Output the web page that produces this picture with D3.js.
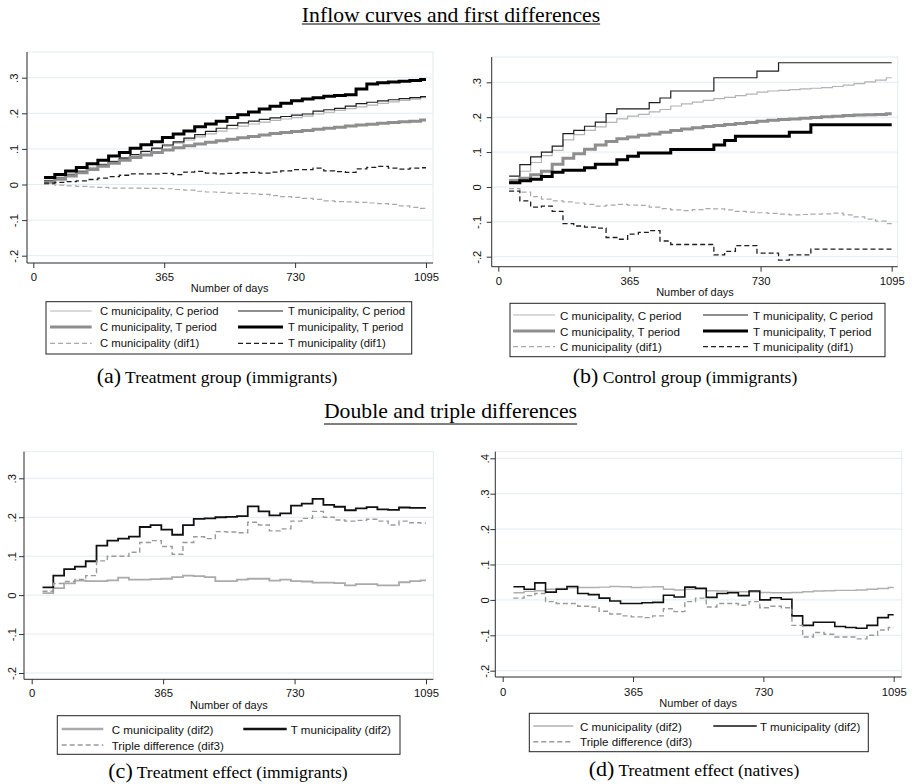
<!DOCTYPE html>
<html><head><meta charset="utf-8">
<script src="https://cdn.jsdelivr.net/npm/d3@7"></script>
<style>body{margin:0;background:#fff}svg{display:block}</style>
</head><body>
<svg id="c" width="912" height="784"></svg>
<script>
// ---------- DATA ----------
const days = [30,60,90,120,150,180,210,240,270,300,330,360,390,420,450,480,510,540,570,600,630,660,690,720,750,780,810,840,870,900,930,960,990,1020,1050,1080,1095];
const xTicks = [0,365,730,1095];
const yTicksABC = [-0.2,-0.1,0,0.1,0.2,0.3];
const yTicksD = [-0.2,-0.1,0,0.1,0.2,0.3,0.4];

// (a) Treatment group (immigrants)
const aCC = [0.012,0.021,0.030,0.039,0.048,0.057,0.066,0.075,0.084,0.092,0.100,0.108,0.116,0.125,0.134,0.142,0.150,0.157,0.164,0.170,0.175,0.180,0.184,0.188,0.192,0.198,0.203,0.208,0.213,0.218,0.223,0.228,0.232,0.236,0.240,0.244,0.244];
const aTC = [0.010,0.018,0.027,0.036,0.045,0.055,0.064,0.074,0.084,0.093,0.102,0.111,0.120,0.130,0.140,0.149,0.158,0.166,0.173,0.178,0.183,0.187,0.191,0.195,0.198,0.206,0.210,0.214,0.220,0.227,0.231,0.235,0.238,0.241,0.244,0.247,0.247];
const aCT = [0.006,0.015,0.024,0.033,0.042,0.051,0.060,0.068,0.076,0.083,0.090,0.097,0.103,0.109,0.114,0.119,0.123,0.127,0.131,0.135,0.139,0.143,0.146,0.149,0.152,0.155,0.158,0.161,0.164,0.167,0.169,0.172,0.174,0.176,0.178,0.181,0.181];
const aTT = [0.020,0.028,0.038,0.048,0.058,0.068,0.080,0.090,0.102,0.112,0.120,0.132,0.142,0.150,0.162,0.170,0.178,0.188,0.196,0.204,0.212,0.220,0.228,0.235,0.240,0.244,0.248,0.250,0.252,0.268,0.282,0.286,0.288,0.290,0.292,0.295,0.295];
const aCd = [0.000,-0.002,-0.004,-0.005,-0.007,-0.008,-0.010,-0.010,-0.010,-0.011,-0.011,-0.012,-0.014,-0.016,-0.019,-0.021,-0.022,-0.024,-0.025,-0.026,-0.028,-0.031,-0.034,-0.036,-0.039,-0.042,-0.046,-0.048,-0.049,-0.050,-0.052,-0.054,-0.056,-0.060,-0.064,-0.067,-0.067];
const aTd = [0.004,0.006,0.008,0.010,0.014,0.018,0.022,0.026,0.030,0.030,0.030,0.031,0.028,0.035,0.037,0.032,0.030,0.031,0.033,0.034,0.032,0.035,0.038,0.042,0.042,0.046,0.038,0.036,0.034,0.044,0.048,0.051,0.046,0.043,0.046,0.047,0.047];

// (b) Control group (immigrants)
const bCC = [0.022,0.045,0.070,0.090,0.105,0.135,0.150,0.162,0.172,0.185,0.195,0.203,0.208,0.215,0.222,0.232,0.238,0.243,0.248,0.253,0.257,0.262,0.266,0.272,0.275,0.277,0.279,0.281,0.283,0.285,0.288,0.292,0.296,0.301,0.306,0.313,0.313];
const bTC = [0.031,0.064,0.086,0.100,0.117,0.153,0.162,0.174,0.186,0.210,0.224,0.224,0.224,0.242,0.255,0.275,0.275,0.275,0.275,0.313,0.313,0.313,0.313,0.332,0.332,0.356,0.356,0.356,0.356,0.356,0.356,0.356,0.356,0.356,0.356,0.356,0.356];
const bCT = [0.018,0.025,0.035,0.045,0.065,0.082,0.095,0.108,0.120,0.130,0.138,0.143,0.148,0.152,0.157,0.162,0.166,0.170,0.173,0.176,0.179,0.182,0.185,0.188,0.191,0.193,0.195,0.197,0.199,0.201,0.203,0.205,0.206,0.207,0.208,0.210,0.210];
const bTT = [0.012,0.018,0.022,0.030,0.042,0.048,0.048,0.055,0.065,0.065,0.078,0.088,0.097,0.097,0.097,0.107,0.107,0.107,0.107,0.120,0.133,0.145,0.145,0.145,0.145,0.145,0.157,0.157,0.178,0.178,0.178,0.178,0.178,0.178,0.178,0.178,0.178];
const bCd = [-0.005,-0.015,-0.028,-0.035,-0.040,-0.043,-0.046,-0.050,-0.055,-0.052,-0.050,-0.052,-0.053,-0.058,-0.062,-0.066,-0.068,-0.065,-0.062,-0.063,-0.066,-0.070,-0.072,-0.074,-0.076,-0.078,-0.080,-0.079,-0.078,-0.077,-0.075,-0.080,-0.086,-0.092,-0.098,-0.105,-0.105];
const bTd = [-0.012,-0.040,-0.058,-0.055,-0.070,-0.105,-0.112,-0.115,-0.118,-0.145,-0.150,-0.135,-0.130,-0.125,-0.155,-0.165,-0.165,-0.165,-0.165,-0.195,-0.185,-0.168,-0.168,-0.190,-0.190,-0.210,-0.195,-0.195,-0.178,-0.178,-0.178,-0.178,-0.178,-0.178,-0.178,-0.178,-0.178];

// (c) Treatment effect (immigrants)
const cC2 = [0.005,0.018,0.030,0.037,0.036,0.036,0.038,0.045,0.040,0.040,0.041,0.042,0.046,0.050,0.049,0.046,0.036,0.036,0.040,0.042,0.042,0.037,0.040,0.036,0.035,0.032,0.032,0.031,0.025,0.028,0.028,0.025,0.025,0.033,0.036,0.038,0.038];
const cT2 = [0.020,0.050,0.067,0.073,0.087,0.127,0.140,0.145,0.150,0.175,0.180,0.168,0.155,0.180,0.196,0.197,0.200,0.201,0.203,0.228,0.215,0.205,0.210,0.230,0.235,0.247,0.232,0.227,0.218,0.223,0.226,0.220,0.219,0.225,0.224,0.224,0.224];
const cD3 = [0.010,0.030,0.035,0.040,0.050,0.088,0.100,0.100,0.110,0.135,0.140,0.125,0.105,0.135,0.150,0.145,0.163,0.162,0.160,0.187,0.180,0.165,0.170,0.190,0.197,0.215,0.200,0.193,0.190,0.192,0.195,0.190,0.180,0.190,0.186,0.185,0.185];

// (d) Treatment effect (natives)
const dC2 = [0.020,0.024,0.026,0.030,0.032,0.034,0.035,0.035,0.036,0.038,0.037,0.035,0.036,0.037,0.030,0.028,0.030,0.030,0.026,0.025,0.024,0.023,0.022,0.021,0.020,0.020,0.021,0.023,0.025,0.026,0.027,0.027,0.028,0.030,0.032,0.035,0.035];
const dT2 = [0.037,0.030,0.048,0.022,0.030,0.038,0.018,0.015,0.005,-0.003,-0.010,-0.010,-0.008,-0.007,0.013,0.008,0.036,0.033,0.007,0.018,0.020,0.012,0.025,0.000,0.006,0.002,-0.045,-0.072,-0.063,-0.063,-0.075,-0.078,-0.080,-0.072,-0.050,-0.042,-0.042];
const dD3 = [0.005,0.012,0.018,-0.005,-0.010,-0.010,-0.018,-0.020,-0.032,-0.040,-0.045,-0.048,-0.050,-0.045,-0.025,-0.033,-0.005,0.005,-0.020,-0.010,-0.010,-0.015,-0.005,-0.022,-0.018,-0.022,-0.072,-0.105,-0.092,-0.097,-0.105,-0.105,-0.110,-0.100,-0.085,-0.078,-0.078];

const labelsInflow = ['C municipality, C period','T municipality, C period','C municipality, T period','T municipality, T period','C municipality (dif1)','T municipality (dif1)'];
const labelsEffect = ['C municipality (dif2)','T municipality (dif2)','Triple difference (dif3)'];
const titles = ['Inflow curves and first differences','Double and triple differences'];
const xTitle = 'Number of days';

// ---------- STYLE / LAYOUT ----------
const SANS = "'Liberation Sans', Arial, Helvetica, sans-serif";
const SERIF = "'Liberation Serif', 'Times New Roman', serif";
const GRID = '#e3ebee';
const st = {
  thinGray:  {stroke:'#b4b4b4', w:1.2},
  thinBlack: {stroke:'#1e1e1e', w:1.2},
  thickGray: {stroke:'#8e8e8e', w:3},
  thickBlack:{stroke:'#000000', w:3},
  dashGray:  {stroke:'#a9a9a9', w:1.2, dash:'5,3'},
  dashBlack: {stroke:'#1e1e1e', w:1.3, dash:'5,3'},
  effGray:   {stroke:'#aaaaaa', w:1.8},
  effBlack:  {stroke:'#111111', w:1.8},
  effDash:   {stroke:'#9a9a9a', w:1.4, dash:'5,3'},
  effGrayD:  {stroke:'#b0b0b0', w:1.4},
  effBlackD: {stroke:'#111111', w:1.6}
};

const inflowSeries = (v, L) => [
  {values:v[0], label:L[0], style:st.thinGray,  col:0,row:0},
  {values:v[1], label:L[1], style:st.thinBlack, col:1,row:0},
  {values:v[2], label:L[2], style:st.thickGray, col:0,row:1},
  {values:v[3], label:L[3], style:st.thickBlack,col:1,row:1},
  {values:v[4], label:L[4], style:st.dashGray,  col:0,row:2},
  {values:v[5], label:L[5], style:st.dashBlack, col:1,row:2}
];

const panels = [
  { frame:{l:27,t:52,r:433,b:263}, xRange:[33.3,426], yDomain:[-0.2,0.3], yRange:[255.7,77.7], yTicks:yTicksABC,
    yLabX:14, xLabY:277, xTitleY:287.5,
    series: inflowSeries([aCC,aTC,aCT,aTT,aCd,aTd], labelsInflow),
    legend:{box:[46,301.7,411.7,354], rows:[311,327,343.3], cols:[[50,91.7,100],[238,283,288]], fs:11.3},
    caption:{label:'(a)', text:'Treatment group (immigrants)', cx:217, y:383} },
  { frame:{l:491.7,t:57,r:897.7,b:266.7}, xRange:[498.3,891.7], yDomain:[-0.2,0.3], yRange:[256.7,82.3], yTicks:yTicksABC,
    yLabX:476.7, xLabY:281, xTitleY:291.7,
    series: inflowSeries([bCC,bTC,bCT,bTT,bCd,bTd], labelsInflow),
    legend:{box:[510,303.3,885,356.7], rows:[315,331,346.7], cols:[[513,555,560],[703,748,753]], fs:11.6},
    caption:{label:'(b)', text:'Control group (immigrants)', cx:685, y:383} },
  { frame:{l:24,t:451.7,r:433.3,b:679.3}, xRange:[31.7,426], yDomain:[-0.2,0.3], yRange:[673,478.3], yTicks:yTicksABC,
    yLabX:11.7, xLabY:693.3, xTitleY:705,
    series:[
      {values:cC2, label:labelsEffect[0], style:st.effGray, col:0,row:0, lw:2.4},
      {values:cT2, label:labelsEffect[1], style:st.effBlack, col:1,row:0, lw:2.4},
      {values:cD3, label:labelsEffect[2], style:st.effDash, col:0,row:1}
    ],
    legend:{box:[57.3,715.7,400,754.3], rows:[729,745], cols:[[61.7,103.3,111.7],[243.3,286.7,290.7]], fs:11.6},
    caption:{label:'(c)', text:'Treatment effect (immigrants)', cx:228, y:777.5} },
  { frame:{l:495.3,t:451.7,r:901.7,b:677}, xRange:[502.7,893.7], yDomain:[-0.2,0.4], yRange:[670.7,458.3], yTicks:yTicksD,
    yLabX:485.3, xLabY:692, xTitleY:703.3,
    series:[
      {values:dC2, label:labelsEffect[0], style:st.effGrayD, col:0,row:0},
      {values:dT2, label:labelsEffect[1], style:st.effBlackD, col:1,row:0},
      {values:dD3, label:labelsEffect[2], style:st.effDash, col:0,row:1}
    ],
    legend:{box:[529.3,713.3,868.3,751.7], rows:[726,741.7], cols:[[533.3,573.3,580],[713.3,756.7,760]], fs:11.6},
    caption:{label:'(d)', text:'Treatment effect (natives)', cx:694, y:776} }
];

const sectionTitles = [
  {text:titles[0], cx:451, y:21.5, uy:24},
  {text:titles[1], cx:450.5, y:418, uy:424}
];

// ---------- DRAW ----------
const svg = d3.select('#c');
svg.append('rect').attr('width',912).attr('height',784).attr('fill','#fff');

const fmt = v => v === 0 ? '0' : (v < 0 ? '-' : '') + '.' + Math.round(Math.abs(v) * 10);

function applyStyle(sel, s, w){
  sel.attr('fill','none').attr('stroke', s.stroke).attr('stroke-width', w || s.w)
     .attr('stroke-dasharray', s.dash || null).attr('stroke-linejoin','miter').attr('stroke-linecap','butt');
}

panels.forEach(p => {
  const g = svg.append('g');
  const f = p.frame;
  const x = d3.scaleLinear().domain([0,1095]).range(p.xRange);
  const y = d3.scaleLinear().domain(p.yDomain).range(p.yRange);

  // plot region border + grid
  g.append('rect').attr('x',f.l).attr('y',f.t).attr('width',f.r-f.l).attr('height',f.b-f.t)
    .attr('fill','none').attr('stroke',GRID).attr('stroke-width',1);
  g.append('g').selectAll('line').data(p.yTicks).join('line')
    .attr('x1',f.l).attr('x2',f.r).attr('y1',d=>y(d)).attr('y2',d=>y(d))
    .attr('stroke',GRID).attr('stroke-width',1);

  // series
  const line = d3.line().x((d,i)=>x(days[i])).y(d=>y(d)).curve(d3.curveStepAfter);
  p.series.forEach(s => applyStyle(g.append('path').attr('d', line(s.values)), s.style));

  // y axis
  const ya = g.append('g').attr('transform',`translate(${f.l},0)`)
    .call(d3.axisLeft(y).tickValues(p.yTicks).tickSize(5).tickFormat(fmt));
  ya.select('.domain').remove();
  ya.attr('font-family',SANS).attr('font-size',11.3);
  ya.selectAll('.tick line').attr('stroke','#333');
  ya.selectAll('.tick text').attr('transform','rotate(-90)').attr('x',0).attr('y',-(f.l - p.yLabX))
    .attr('dy',null).attr('text-anchor','middle').attr('dominant-baseline','central').attr('fill','#111');

  // x axis
  const xa = g.append('g').attr('transform',`translate(0,${f.b})`)
    .call(d3.axisBottom(x).tickValues(xTicks).tickSize(5).tickFormat(d3.format('d')));
  xa.select('.domain').remove();
  xa.attr('font-family',SANS).attr('font-size',11.3);
  xa.selectAll('.tick line').attr('stroke','#333');
  xa.selectAll('.tick text').attr('y', p.xLabY - f.b).attr('dy',null)
    .attr('dominant-baseline','central').attr('fill','#111');

  // axis lines
  g.append('line').attr('x1',f.l).attr('x2',f.l).attr('y1',f.t).attr('y2',f.b).attr('stroke','#333');
  g.append('line').attr('x1',f.l).attr('x2',f.r).attr('y1',f.b).attr('y2',f.b).attr('stroke','#333');

  // x title
  g.append('text').attr('x',(p.xRange[0]+p.xRange[1])/2).attr('y',p.xTitleY)
    .attr('text-anchor','middle').attr('dominant-baseline','central')
    .attr('font-family',SANS).attr('font-size',11).attr('fill','#111').text(xTitle);

  // legend
  const L = p.legend;
  g.append('rect').attr('x',L.box[0]).attr('y',L.box[1]).attr('width',L.box[2]-L.box[0]).attr('height',L.box[3]-L.box[1])
    .attr('fill','#fff').attr('stroke','#222').attr('stroke-width',1);
  p.series.forEach(s => {
    const c = L.cols[s.col], ry = L.rows[s.row];
    applyStyle(g.append('line').attr('x1',c[0]).attr('x2',c[1]).attr('y1',ry).attr('y2',ry), s.style, s.lw);
    g.append('text').attr('x',c[2]).attr('y',ry).attr('dominant-baseline','central')
      .attr('font-family',SANS).attr('font-size',L.fs).attr('fill','#111').text(s.label);
  });

  // caption
  const cap = g.append('text').attr('x',p.caption.cx).attr('y',p.caption.y).attr('text-anchor','middle')
    .attr('font-family',SERIF).attr('fill','#000');
  cap.append('tspan').attr('font-size',22).text(p.caption.label);
  cap.append('tspan').attr('font-size',17.5).text(' ' + p.caption.text);
});

sectionTitles.forEach(t => {
  const el = svg.append('text').attr('x',t.cx).attr('y',t.y).attr('text-anchor','middle')
    .attr('font-family',SERIF).attr('font-size',21.7).attr('fill','#000').text(t.text);
  const w = el.node().getComputedTextLength();
  svg.append('line').attr('x1',t.cx - w/2).attr('x2',t.cx + w/2).attr('y1',t.uy).attr('y2',t.uy)
    .attr('stroke','#000').attr('stroke-width',1);
});
</script>
</body></html>
